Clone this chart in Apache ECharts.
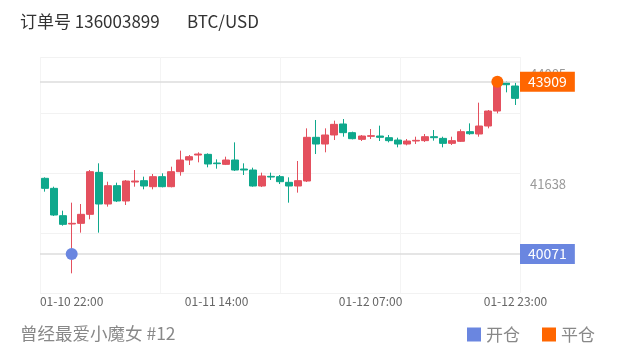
<!DOCTYPE html>
<html>
<head>
<meta charset="utf-8">
<script src="https://cdn.jsdelivr.net/npm/echarts@6/dist/echarts.min.js"></script>
<style>
    html, body { margin: 0; padding: 0; background: #fff; }
    #main { width: 620px; height: 352px; }
</style>
</head>
<body>
<div id="main"></div>
<script>
// 时间轴（每小时一根K线）
const categories = [
    '01-10 19:00', '01-10 20:00', '01-10 21:00', '01-10 22:00', '01-10 23:00',
    '01-11 00:00', '01-11 01:00', '01-11 02:00', '01-11 03:00', '01-11 04:00', '01-11 05:00',
    '01-11 06:00', '01-11 07:00', '01-11 08:00', '01-11 09:00', '01-11 10:00', '01-11 11:00',
    '01-11 12:00', '01-11 13:00', '01-11 14:00', '01-11 15:00', '01-11 16:00', '01-11 17:00',
    '01-11 18:00', '01-11 19:00', '01-11 20:00', '01-11 21:00', '01-11 22:00', '01-11 23:00',
    '01-12 00:00', '01-12 01:00', '01-12 02:00', '01-12 03:00', '01-12 04:00', '01-12 05:00',
    '01-12 06:00', '01-12 07:00', '01-12 08:00', '01-12 09:00', '01-12 10:00', '01-12 11:00',
    '01-12 12:00', '01-12 13:00', '01-12 14:00', '01-12 15:00', '01-12 16:00', '01-12 17:00',
    '01-12 18:00', '01-12 19:00', '01-12 20:00', '01-12 21:00', '01-12 22:00', '01-12 23:00'
];
const opens = [
    41757, 41534, 40925, 40740, 40754, 40955, 41890, 41185, 41593, 41252,
    41675, 41705, 41571, 41794, 41571, 41905, 42165, 42276, 42291, 42098,
    42068, 42165, 41964, 41942, 41586, 41801, 41794, 41668, 41586, 41697,
    42670, 42521, 42722, 42967, 42774, 42625, 42692, 42699, 42662, 42610,
    42521, 42588, 42596, 42684, 42647, 42536, 42581, 42796, 42744, 42922,
    43256, 43887, 43813
];
const closes = [
    41534, 40940, 40732, 40755, 40955, 41905, 41185, 41593, 41252, 41697,
    41697, 41586, 41794, 41571, 41905, 42165, 42239, 42298, 42076, 42083,
    42165, 41942, 41942, 41586, 41809, 41786, 41682, 41586, 41705, 42670,
    42521, 42722, 42959, 42774, 42640, 42699, 42707, 42670, 42596, 42521,
    42588, 42603, 42684, 42662, 42536, 42596, 42796, 42751, 42922, 43256,
    43909, 43842, 43538
];
const lows = [
    41460, 40918, 40702, 39641, 40547, 40844, 40547, 41126, 41229, 41163,
    41571, 41512, 41512, 41556, 41556, 41816, 42053, 42113, 42002, 41972,
    42053, 41920, 41831, 41571, 41563, 41719, 41630, 41215, 41438, 41675,
    42298, 42336, 42610, 42684, 42625, 42588, 42633, 42588, 42558, 42447,
    42491, 42521, 42566, 42596, 42447, 42499, 42566, 42729, 42684, 42870,
    43204, 43672, 43390
];
const highs = [
    41779, 41571, 41036, 41215, 41185, 41942, 42091, 41682, 41660, 41719,
    41942, 41794, 41853, 41868, 42016, 42373, 42276, 42336, 42313, 42180,
    42239, 42558, 42091, 41994, 41883, 41883, 41831, 41779, 42143, 42870,
    43056, 42870, 43041, 43078, 42796, 42722, 42855, 42930, 42722, 42662,
    42633, 42684, 42744, 42833, 42684, 42684, 42848, 42981, 43442, 43278,
    43932, 43924, 43887
];
// 横轴显示的时间
const xTickLabels = ['01-10 22:00', '01-11 14:00', '01-12 07:00', '01-12 23:00'];
// 纵轴显示的价格
const yTickLabels = [41638, 44085];
// 开仓 / 平仓
const openTrade = ['01-10 22:00', 40071];
const closeTrade = ['01-12 21:00', 43909];

const upColor = '#e4505e';
const downColor = '#0fa88c';
const openColor = '#6a86e0';
const closeColor = '#ff6600';

const chart = echarts.init(document.getElementById('main'));

chart.setOption({
    animation: false,
    textStyle: { fontFamily: '"Noto Sans CJK SC", "Noto Sans", sans-serif' },
    title: [{
        text: '订单号 136003899',
        left: 15,
        top: 8,
        textStyle: { fontSize: 17, fontWeight: 'normal', color: '#333' }
    }, {
        text: 'BTC/USD',
        left: 182,
        top: 8,
        textStyle: { fontSize: 17, fontWeight: 'normal', color: '#333' }
    }, {
        text: '曾经最爱小魔女 #12',
        left: 15,
        top: 320,
        textStyle: { fontSize: 17.5, fontWeight: 'normal', color: '#888' }
    }],
    legend: {
        data: ['开仓', '平仓'],
        right: 20,
        top: 321,
        icon: 'rect',
        itemWidth: 14,
        itemHeight: 14,
        itemGap: 22,
        itemStyle: { opacity: 1 },
        textStyle: { fontSize: 17, color: '#888' }
    },
    grid: {
        left: 40,
        right: 100,
        top: 57,
        bottom: 59
    },
    xAxis: [{
        type: 'category',
        data: categories,
        boundaryGap: true,
        axisLine: { show: false },
        axisTick: { show: false },
        splitLine: { show: false },
        axisLabel: {
            color: '#666',
            fontSize: 12,
            margin: 2,
            interval: (index, value) => xTickLabels.includes(value)
        }
    }, {
        // 只用来画竖向网格
        type: 'value',
        min: 0,
        max: 4,
        interval: 1,
        show: true,
        axisLine: { show: false },
        axisTick: { show: false },
        axisLabel: { show: false },
        splitLine: { lineStyle: { color: '#f4f4f4' } }
    }],
    yAxis: [{
        type: 'value',
        position: 'right',
        min: 39203,
        max: 44459,
        axisLine: { show: false },
        axisTick: { show: false },
        splitLine: { show: false },
        axisLabel: {
            color: '#999',
            fontSize: 13,
            margin: 10,
            customValues: yTickLabels,
            formatter: (v) => String(v)
        }
    }, {
        // 只用来画横向网格
        type: 'value',
        min: 0,
        max: 3.933,
        interval: 1,
        axisLine: { show: false },
        axisTick: { show: false },
        axisLabel: { show: false },
        splitLine: { lineStyle: { color: '#f2f2f2' } }
    }],
    series: [{
        name: 'K',
        type: 'candlestick',
        xAxisIndex: 0,
        yAxisIndex: 0,
        barWidth: 7.5,
        data: categories.map((c, i) => [opens[i], closes[i], lows[i], highs[i]]),
        itemStyle: {
            color: upColor,
            color0: downColor,
            borderColor: upColor,
            borderColor0: downColor,
            borderWidth: 1
        },
        markLine: {
            silent: true,
            symbol: ['none', 'none'],
            lineStyle: { color: '#dcdcdc', type: 'solid', width: 1.5 },
            label: {
                position: 'end',
                distance: 0,
                color: '#fff',
                fontSize: 14,
                padding: [3, 8],
                formatter: '{c}'
            },
            data: [
                { yAxis: closeTrade[1], label: { backgroundColor: closeColor } },
                { yAxis: openTrade[1], label: { backgroundColor: openColor } }
            ]
        }
    }, {
        name: '开仓',
        type: 'scatter',
        xAxisIndex: 0,
        yAxisIndex: 0,
        symbolSize: 12,
        z: 5,
        itemStyle: { color: openColor, opacity: 1 },
        data: [openTrade]
    }, {
        name: '平仓',
        type: 'scatter',
        xAxisIndex: 0,
        yAxisIndex: 0,
        symbolSize: 12,
        z: 5,
        itemStyle: { color: closeColor, opacity: 1 },
        data: [closeTrade]
    }]
});
</script>
</body>
</html>
